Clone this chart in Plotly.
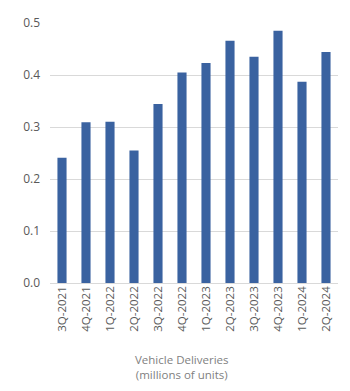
import plotly.graph_objects as go

quarters = ["3Q-2021", "4Q-2021", "1Q-2022", "2Q-2022", "3Q-2022", "4Q-2022",
            "1Q-2023", "2Q-2023", "3Q-2023", "4Q-2023", "1Q-2024", "2Q-2024"]
deliveries = [0.241, 0.309, 0.310, 0.255, 0.344, 0.405,
              0.423, 0.466, 0.435, 0.485, 0.387, 0.444]
x_title = "Vehicle Deliveries<br>(millions of units)"

fig = go.Figure(go.Bar(
    x=quarters, y=deliveries,
    marker=dict(color="#3a62a0", line=dict(width=0)),
))

font_gray = "#595959"
fig.update_layout(
    width=350, height=391,
    margin=dict(l=50, r=12, t=23, b=108),
    paper_bgcolor="white", plot_bgcolor="white",
    bargap=0.62,
    showlegend=False,
    font=dict(family="Open Sans, Liberation Sans, sans-serif", size=11, color=font_gray),
    annotations=[dict(
        text=x_title, xref="paper", yref="paper",
        x=(181 - 50) / 288, y=-(350 - 283) / 260,
        xanchor="center", yanchor="top", showarrow=False,
        font=dict(size=11.5, color="#7f7f7f"),
    )],
)
fig.update_yaxes(
    range=[0, 0.5], dtick=0.1, tickformat=".1f",
    showgrid=True, gridcolor="#d9d9d9", gridwidth=1,
    zeroline=True, zerolinecolor="#d9d9d9", zerolinewidth=1,
    ticks="", ticklabelstandoff=9,
    tickfont=dict(size=12, color=font_gray),
)
fig.update_xaxes(
    tickangle=-90, ticks="", showline=False,
    tickfont=dict(size=11.5, color=font_gray),
)
fig.write_html("out.html")
